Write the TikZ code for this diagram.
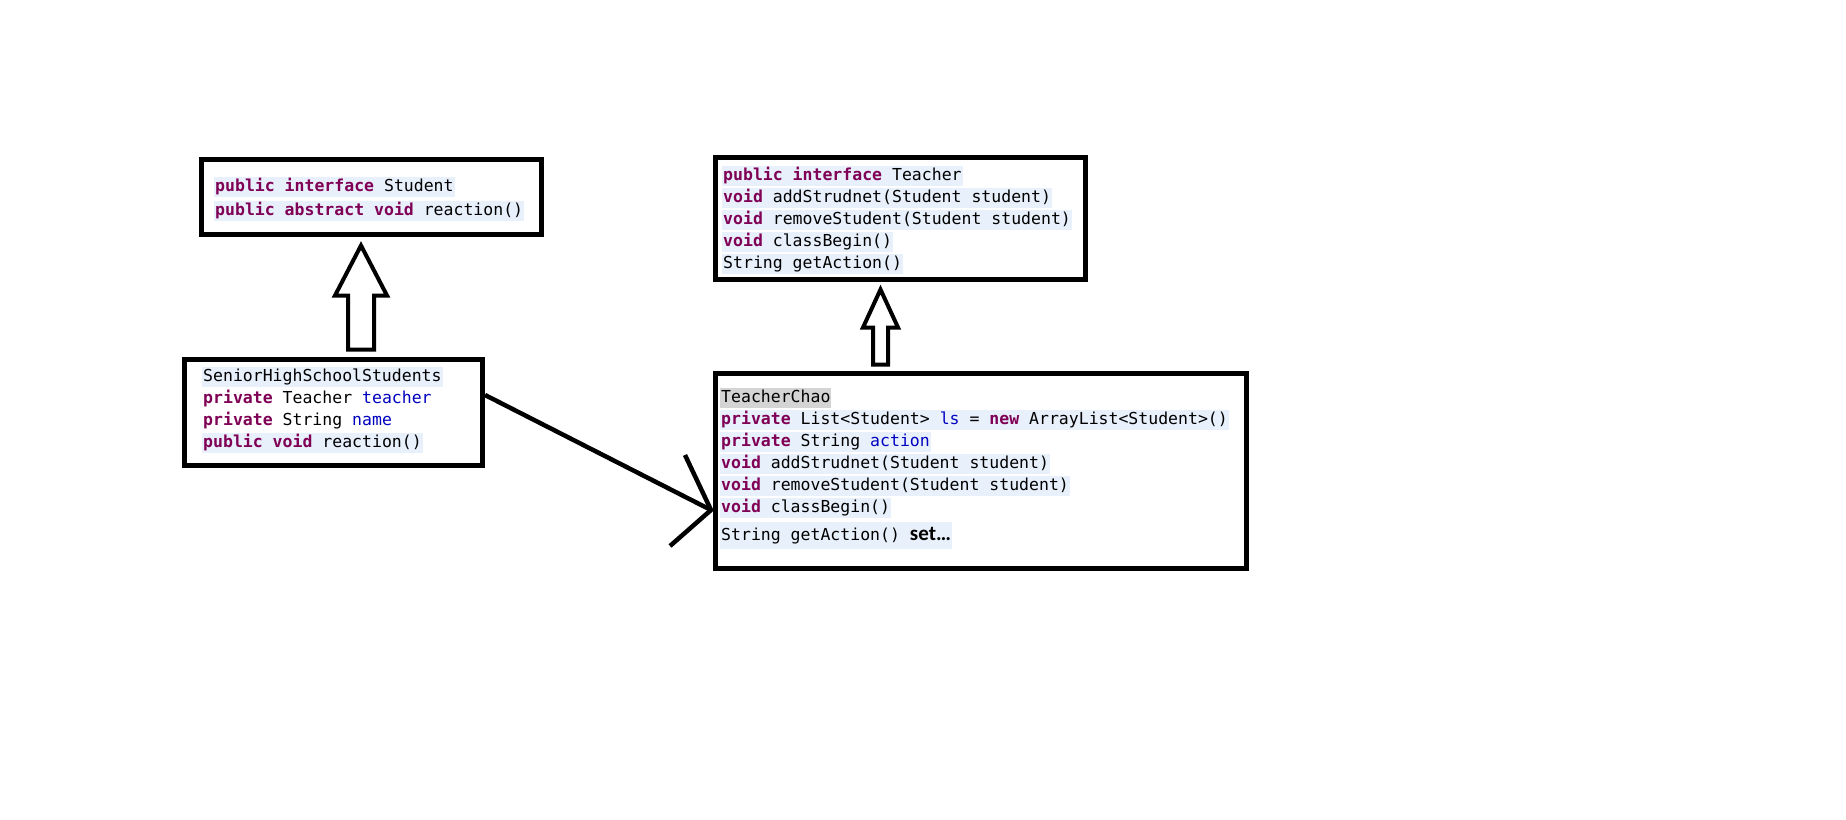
\documentclass[tikz,border=0pt]{standalone}
\usepackage{fontspec}
\usetikzlibrary{calc}
\setmonofont{DejaVu Sans Mono}
\newfontfamily\calibfont{Carlito}
\definecolor{kwc}{RGB}{127,0,85}
\definecolor{fldc}{RGB}{0,0,192}
\definecolor{hlc}{RGB}{232,240,252}
\definecolor{greyhl}{RGB}{212,212,212}
\newcommand\kw[1]{\textcolor{kwc}{\textbf{#1}}}
\newcommand\fld[1]{\textcolor{fldc}{#1}}
\newcommand\bigmono{\ttfamily\fontsize{16.5}{22}\selectfont}
\tikzset{
  umlbox/.style={draw=black, line width=5pt, rectangle, inner sep=0pt},
  codeline/.style={anchor=west, inner xsep=1pt, inner ysep=0pt, text height=14pt, text depth=6pt, font=\bigmono},
  hl/.style={fill=hlc},
  hollowarrow/.style={draw=black, line width=4pt, line join=miter, fill=white},
  assoc/.style={draw=black, line width=4.5pt}
}
\begin{document}
\begin{tikzpicture}[x=1pt,y=-1pt]
\useasboundingbox[fill=white] (0,0) rectangle (1846,819);

% boxes
\node[umlbox, minimum width=340pt, minimum height=75pt] (stu) at (371.5,197) {};
\node[umlbox, minimum width=298pt, minimum height=106pt] (sen) at (333.5,412.5) {};
\node[umlbox, minimum width=370pt, minimum height=122pt] (tea) at (900.5,218.5) {};
\node[umlbox, minimum width=531pt, minimum height=195pt] (tch) at (981,471) {};

% Student interface
\node[codeline, hl] (s1) at (214,187) {\kw{public} \kw{interface} Student};
\node[codeline, hl] (s2) at (214,211) {\kw{public} \kw{abstract} \kw{void} reaction()};

% SeniorHighSchoolStudents
\node[codeline, hl] (h1) at (202,377) {SeniorHighSchoolStudents};
\node[codeline] (h2) at (202,399) {\kw{private} Teacher \fld{teacher}};
\node[codeline] (h3) at (202,421) {\kw{private} String \fld{name}};
\node[codeline, hl] (h4) at (202,443) {\kw{public} \kw{void} reaction()};

% Teacher interface
\node[codeline, hl] (t1) at (722,176) {\kw{public} \kw{interface} Teacher};
\node[codeline, hl] (t2) at (722,198) {\kw{void} addStrudnet(Student student)};
\node[codeline, hl] (t3) at (722,220) {\kw{void} removeStudent(Student student)};
\node[codeline, hl] (t4) at (722,242) {\kw{void} classBegin()};
\node[codeline, hl] (t5) at (722,264) {String getAction()};

% TeacherChao
\node[codeline, fill=greyhl] (c1) at (720,398) {TeacherChao};
\node[codeline, hl] (c2) at (720,420) {\kw{private} List<Student> \fld{ls} = \kw{new} ArrayList<Student>()};
\node[codeline, hl] (c3) at (720,442) {\kw{private} String \fld{action}};
\node[codeline, hl] (c4) at (720,464) {\kw{void} addStrudnet(Student student)};
\node[codeline, hl] (c5) at (720,486) {\kw{void} removeStudent(Student student)};
\node[codeline, hl] (c6) at (720,508) {\kw{void} classBegin()};
\node[codeline, hl, text height=19pt, text depth=8pt] (c7) at (720,535) {String getAction() {\calibfont\fontsize{21}{22}\selectfont\bfseries set\ldots}};

% realization arrows (hollow block arrows)
\coordinate (a1) at ([xshift=-10.5pt,yshift=-8.5pt]stu.south);
\draw[hollowarrow] (a1) -- ++(26,50) -- ++(-13,0) -- ++(0,54) -- ++(-26,0) -- ++(0,-54) -- ++(-13,0) -- cycle;
\coordinate (a2) at ([xshift=-20pt,yshift=-7.5pt]tea.south);
\draw[hollowarrow] (a2) -- ++(17.5,38) -- ++(-10,0) -- ++(0,37) -- ++(-15,0) -- ++(0,-37) -- ++(-10,0) -- cycle;

% association with open arrowhead
\coordinate (p0) at ([yshift=17.5pt]sen.east);
\coordinate (p1) at ([xshift=-2pt,yshift=-39pt]tch.west);
\draw[assoc] (p0) -- (p1);
\draw[assoc, line join=miter] ($(p1)+(-26,-55)$) -- (p1) -- ($(p1)+(-41,36)$);
\end{tikzpicture}
\end{document}
